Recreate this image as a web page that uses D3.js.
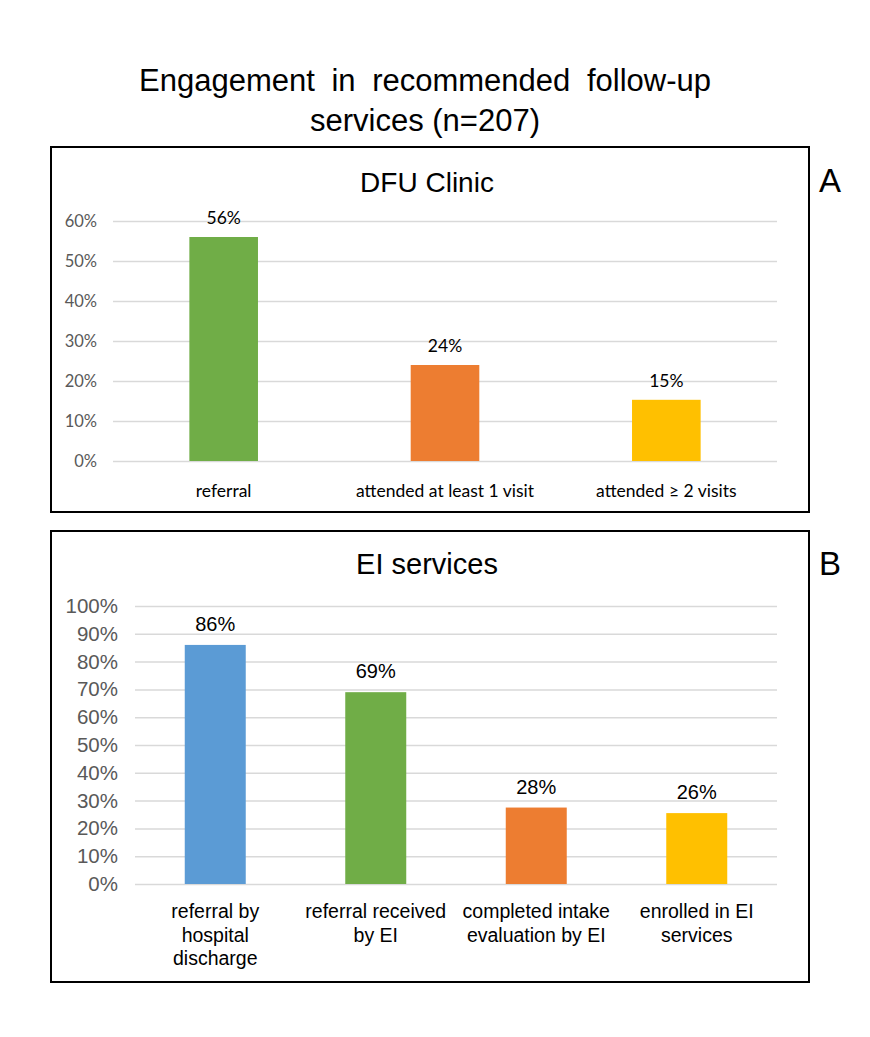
<!DOCTYPE html>
<html>
<head>
<meta charset="utf-8">
<script src="https://cdn.jsdelivr.net/npm/d3@7"></script>
<style>
  body { margin: 0; background: #fff; }
</style>
</head>
<body>
<div id="chart"></div>
<script>
// data
const dfuCategories = ['referral', 'attended at least 1 visit', 'attended \u2265 2 visits'];
const dfuValues = [56, 24, 15.3];
const dfuLabels = ['56%', '24%', '15%'];
const dfuColors = ['#70AD47', '#ED7D31', '#FFC000'];
const dfuTicks = [0, 10, 20, 30, 40, 50, 60];

const eiCategories = [
  ['referral by', 'hospital', 'discharge'],
  ['referral received', 'by EI'],
  ['completed intake', 'evaluation by EI'],
  ['enrolled in EI', 'services']
];
const eiValues = [86, 69, 27.5, 25.5];
const eiLabels = ['86%', '69%', '28%', '26%'];
const eiColors = ['#5B9BD5', '#70AD47', '#ED7D31', '#FFC000'];
const eiTicks = [0, 10, 20, 30, 40, 50, 60, 70, 80, 90, 100];

const W = 870, H = 1037;

const svg = d3.select('#chart').append('svg')
  .attr('width', W).attr('height', H)
  .style('font-family', 'Liberation Sans, Arial, sans-serif');

// main title
svg.append('text')
  .attr('x', 425).attr('y', 91)
  .attr('text-anchor', 'middle')
  .attr('font-size', 31)
  .attr('word-spacing', 8)
  .text('Engagement in recommended follow-up');
svg.append('text')
  .attr('x', 425).attr('y', 131)
  .attr('text-anchor', 'middle')
  .attr('font-size', 31)
  .text('services (n=207)');

// panel drawer
function panel(opt) {
  const g = svg.append('g');
  g.append('rect')
    .attr('x', opt.box[0]).attr('y', opt.box[1])
    .attr('width', opt.box[2]).attr('height', opt.box[3])
    .attr('fill', 'none').attr('stroke', '#000').attr('stroke-width', 2);

  g.append('text')
    .attr('x', 427).attr('y', opt.titleY)
    .attr('text-anchor', 'middle')
    .attr('font-size', opt.titleSize)
    .text(opt.title);

  g.append('text')
    .attr('x', 830).attr('y', opt.letterY)
    .attr('text-anchor', 'middle')
    .attr('font-size', 33)
    .text(opt.letter);

  const x = d3.scaleBand()
    .domain(d3.range(opt.values.length))
    .range([opt.x0, opt.x1])
    .paddingInner(opt.pad).paddingOuter(opt.pad / 2);

  const y = d3.scaleLinear()
    .domain([0, d3.max(opt.ticks)])
    .range([opt.y0, opt.y1]);

  // gridlines
  g.append('g')
    .attr('transform', `translate(${opt.x0},0)`)
    .call(d3.axisLeft(y).tickValues(opt.ticks).tickSize(-(opt.x1 - opt.x0)).tickFormat(d => d + '%'))
    .call(a => a.select('.domain').remove())
    .call(a => a.selectAll('line').attr('stroke', '#d9d9d9').attr('stroke-width', 1.5))
    .call(a => a.selectAll('text')
      .attr('x', -opt.tickGap)
      .attr('fill', '#595959')
      .attr('font-size', opt.tickSize)
      .style('font-family', opt.tickFont));

  // bars
  g.selectAll('rect.bar')
    .data(opt.values)
    .join('rect')
    .attr('class', 'bar')
    .attr('x', (d, i) => x(i))
    .attr('y', d => y(d))
    .attr('width', x.bandwidth())
    .attr('height', d => y(0) - y(d))
    .attr('fill', (d, i) => opt.colors[i]);

  // value labels
  g.selectAll('text.val')
    .data(opt.values)
    .join('text')
    .attr('class', 'val')
    .attr('x', (d, i) => x(i) + x.bandwidth() / 2)
    .attr('y', d => y(d) - opt.valGap)
    .attr('text-anchor', 'middle')
    .attr('font-size', opt.valSize)
    .style('font-family', opt.valFont)
    .text((d, i) => opt.labels[i]);

  // category labels
  const cats = g.selectAll('text.cat')
    .data(opt.categories)
    .join('text')
    .attr('class', 'cat')
    .attr('text-anchor', 'middle')
    .attr('font-size', opt.catSize)
    .style('font-family', opt.valFont)
    .attr('transform', (d, i) => `translate(${x(i) + x.bandwidth() / 2},${opt.catY})`);
  cats.selectAll('tspan')
    .data(d => Array.isArray(d) ? d : [d])
    .join('tspan')
    .attr('x', 0)
    .attr('dy', (d, i) => i === 0 ? 0 : opt.catLine)
    .text(d => d);
}

panel({
  box: [51, 147, 758, 365],
  title: 'DFU Clinic', titleY: 192, titleSize: 28,
  letter: 'A', letterY: 192,
  x0: 113, x1: 777, y0: 461, y1: 221, pad: 0.69,
  values: dfuValues, labels: dfuLabels, colors: dfuColors, ticks: dfuTicks,
  categories: dfuCategories,
  tickSize: 16.5, tickGap: 16, tickFont: 'Lato, Open Sans, sans-serif',
  valSize: 17.5, valGap: 13, valFont: 'Lato, Open Sans, sans-serif',
  catSize: 17.5, catY: 497, catLine: 24
});

panel({
  box: [51, 531, 758, 451],
  title: 'EI services', titleY: 574, titleSize: 29,
  letter: 'B', letterY: 575,
  x0: 135, x1: 777, y0: 884, y1: 606, pad: 0.62,
  values: eiValues, labels: eiLabels, colors: eiColors, ticks: eiTicks,
  categories: eiCategories,
  tickSize: 20.5, tickGap: 17, tickFont: 'Liberation Sans, Arial, sans-serif',
  valSize: 20, valGap: 14, valFont: 'Liberation Sans, Arial, sans-serif',
  catSize: 19.5, catY: 918, catLine: 23.5
});
</script>
</body>
</html>
